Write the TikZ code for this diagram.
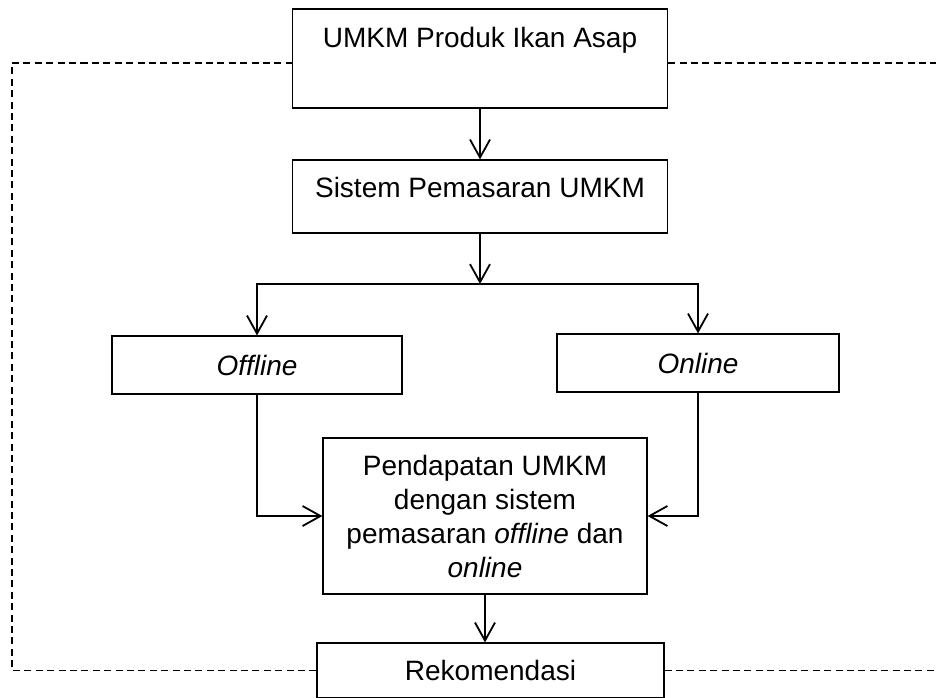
\documentclass[tikz,border=0pt]{standalone}
\usepackage{fontspec}
\setmainfont{Liberation Sans}
\usetikzlibrary{arrows.meta, positioning, calc}

\begin{document}
\begin{tikzpicture}[x=0.5pt,y=-0.5pt]
  \tikzstyle{kotak} = [rectangle,draw,line width=0.6pt,inner sep=0pt,align=center,
                       font=\fontsize{14}{17}\selectfont]
  \tikzstyle{panah} = [-{Straight Barb[length=9pt,width=10pt]}, line width=0.9pt]
  \tikzstyle{umpan} = [line width=0.9pt, dash pattern=on 3.5pt off 2.2pt]
  \useasboundingbox (0,0) rectangle (936,697);
  % kotak-kotak
  \node[kotak,minimum width=187.5pt,text height=19pt,text depth=30.5pt] at (480,58.5) (P) {UMKM Produk Ikan Asap};
  \node[kotak,minimum width=187.5pt,text height=18.5pt,text depth=18pt] at (480,196.5) (S) {Sistem Pemasaran UMKM};
  \node[kotak,minimum width=145pt,minimum height=29pt] at (257,365) (OFF) {\textit{Offline}};
  \node[kotak,minimum width=141pt,minimum height=29pt] at (698,363) (ON) {\textit{Online}};
  \node[kotak,minimum width=162pt,minimum height=78pt] at (485,516) (PD)
    {Pendapatan UMKM\\dengan sistem\\pemasaran \textit{offline} dan\\\textit{online}};
  \node[kotak,minimum width=173.5pt,minimum height=27.5pt] at (490.5,670.5) (R) {Rekomendasi};
  \coordinate (cabang) at (480,284);
  \coordinate (kiri) at (12,63);
  \coordinate (kanan) at (936,63);
  % panah
  \draw[panah] (P) -- (S);
  \draw[panah] (S) -- (cabang);
  \draw[panah] (cabang) -| (OFF);
  \draw[panah] (cabang) -| (ON);
  \draw[panah] (OFF) |- (PD);
  \draw[panah] (ON) |- (PD);
  \draw[panah] (PD.south) -- (PD.south |- R.north);
  % garis putus-putus
  \draw[umpan] (R.west) -| (kiri) -- (P.west |- kiri);
  \draw[umpan] (P.east |- kanan) -- (kanan);
  \draw[umpan] (R.east) -- (R.east -| kanan);
\end{tikzpicture}
\end{document}
